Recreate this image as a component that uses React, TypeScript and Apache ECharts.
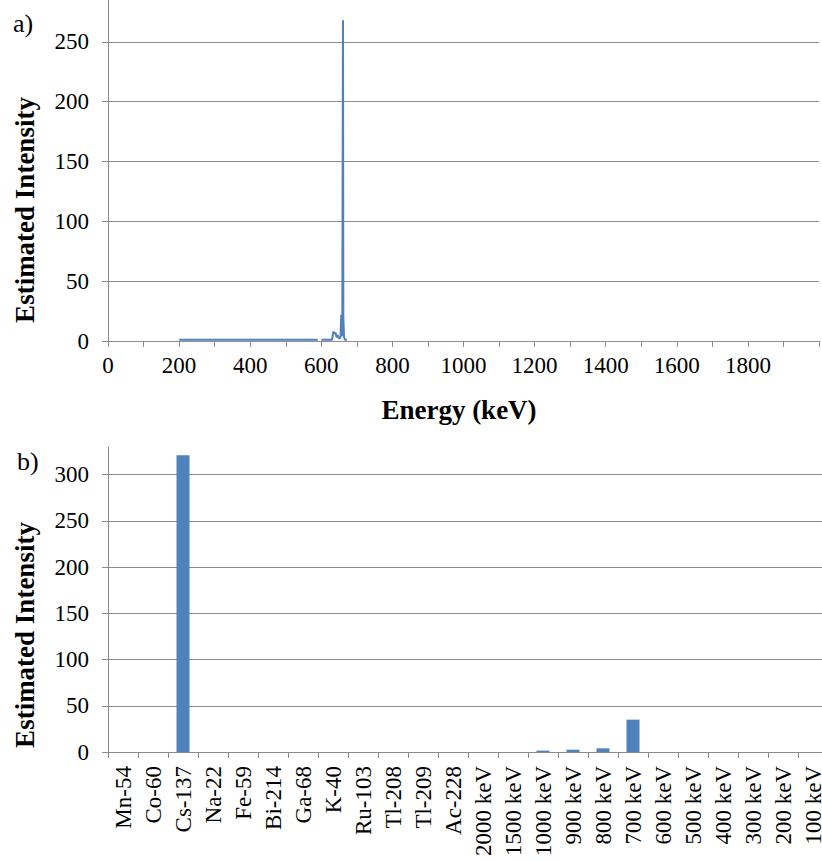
import React, { useEffect, useRef } from "react";
import * as echarts from "echarts";

// a) measured spectrum: energy (keV) vs estimated intensity (null = gap in trace)
const spectrumEnergy = [200, 590, 595, 600, 630, 634, 637, 640, 643, 646, 650, 654, 656, 658, 659, 661, 662, 664, 667, 672];
const spectrumIntensity = [1, 1, null, 1, 1, 8, 6, 7, 3, 5, 2, 3, 22, 4, 10, 268, 20, 3, 1, 1];

// b) identification result per isotope / energy bin
const binLabels = [
  "Mn-54", "Co-60", "Cs-137", "Na-22", "Fe-59", "Bi-214", "Ga-68", "K-40",
  "Ru-103", "Tl-208", "Tl-209", "Ac-228", "2000 keV", "1500 keV", "1000 keV",
  "900 keV", "800 keV", "700 keV", "600 keV", "500 keV", "400 keV", "300 keV",
  "200 keV", "100 keV",
];
const binIntensity = [
  0, 0, 321, 0, 0, 0, 0, 0, 0, 0, 0, 0, 0, 0, 1.5, 2.5, 4, 35, 0, 0, 0, 0, 0, 0,
];

const energyTicks = [0, 200, 400, 600, 800, 1000, 1200, 1400, 1600, 1800];

const SERIF = '"Liberation Serif", "Times New Roman", serif';
const GREY = "#8c8c8c";
const BLUE = "#4F81BD";

export default function App() {
  const ref = useRef<HTMLDivElement>(null);

  useEffect(() => {
    if (!ref.current) return;
    const chart = echarts.init(ref.current, null, { renderer: "svg" });

    const spectrum = spectrumEnergy.map((e, i) => [
      e,
      spectrumIntensity[i] === null ? "-" : spectrumIntensity[i],
    ]);

    const labelStyle = { fontFamily: SERIF, fontSize: 23, color: "#000" };
    const axisLine = { show: true, onZero: false, lineStyle: { color: GREY, width: 1 } };
    const axisTick = { show: true, length: 6, lineStyle: { color: GREY } };

    chart.setOption({
      animation: false,
      backgroundColor: "#fff",
      grid: [
        { left: 108, right: 11, top: -18, height: 359, outerBoundsMode: "none", containLabel: false },
        { left: 108, right: 2, top: 447, height: 305, outerBoundsMode: "none", containLabel: false },
      ],
      xAxis: [
        {
          gridIndex: 0,
          type: "value",
          min: 0,
          max: 2000,
          interval: 100,
          axisLine,
          axisTick,
          splitLine: { show: false },
          axisLabel: {
            ...labelStyle,
            margin: 13,
            formatter: (v: number) => (energyTicks.includes(v) ? String(v) : ""),
          },
        },
        {
          gridIndex: 1,
          type: "category",
          data: binLabels,
          axisLine,
          axisTick: { ...axisTick, alignWithLabel: false, interval: 0 },
          axisLabel: {
            ...labelStyle,
            rotate: 90,
            interval: 0,
            margin: 14,
            align: "right",
            verticalAlign: "middle",
            hideOverlap: false,
          },
        },
      ],
      yAxis: [
        {
          gridIndex: 0,
          type: "value",
          min: 0,
          max: 300,
          interval: 50,
          axisLine,
          axisTick,
          axisLabel: { ...labelStyle, margin: 19, showMaxLabel: false },
          splitLine: { show: true, lineStyle: { color: GREY, width: 1 } },
        },
        {
          gridIndex: 1,
          type: "value",
          min: 0,
          max: 330,
          interval: 50,
          axisLine,
          axisTick,
          axisLabel: { ...labelStyle, margin: 19, showMaxLabel: false },
          splitLine: {
            show: true,
            showMaxLine: false,
            lineStyle: { color: GREY, width: 1 },
          },
        },
      ],
      series: [
        {
          type: "line",
          xAxisIndex: 0,
          yAxisIndex: 0,
          data: spectrum,
          showSymbol: false,
          connectNulls: false,
          lineStyle: { color: BLUE, width: 2 },
          itemStyle: { color: BLUE },
        },
        {
          type: "bar",
          xAxisIndex: 1,
          yAxisIndex: 1,
          data: binIntensity,
          barWidth: 13,
          itemStyle: { color: BLUE },
        },
      ],
      graphic: [
        {
          type: "text",
          x: 13,
          y: 23,
          style: { text: "a)", font: `26px ${SERIF}`, fill: "#000", align: "left", verticalAlign: "middle" },
        },
        {
          type: "text",
          x: 17,
          y: 461,
          style: { text: "b)", font: `26px ${SERIF}`, fill: "#000", align: "left", verticalAlign: "middle" },
        },
        {
          type: "text",
          x: 25,
          y: 210,
          rotation: Math.PI / 2,
          style: {
            text: "Estimated Intensity",
            font: `bold 27px ${SERIF}`,
            fill: "#000",
            align: "center",
            verticalAlign: "middle",
          },
        },
        {
          type: "text",
          x: 25,
          y: 635,
          rotation: Math.PI / 2,
          style: {
            text: "Estimated Intensity",
            font: `bold 27px ${SERIF}`,
            fill: "#000",
            align: "center",
            verticalAlign: "middle",
          },
        },
        {
          type: "text",
          x: 459,
          y: 410,
          style: {
            text: "Energy (keV)",
            font: `bold 27px ${SERIF}`,
            fill: "#000",
            align: "center",
            verticalAlign: "middle",
          },
        },
      ],
    });

    return () => chart.dispose();
  }, []);

  return (
    <div
      ref={ref}
      style={{ position: "fixed", left: 0, top: 0, width: 830, height: 861, background: "#fff" }}
    />
  );
}
